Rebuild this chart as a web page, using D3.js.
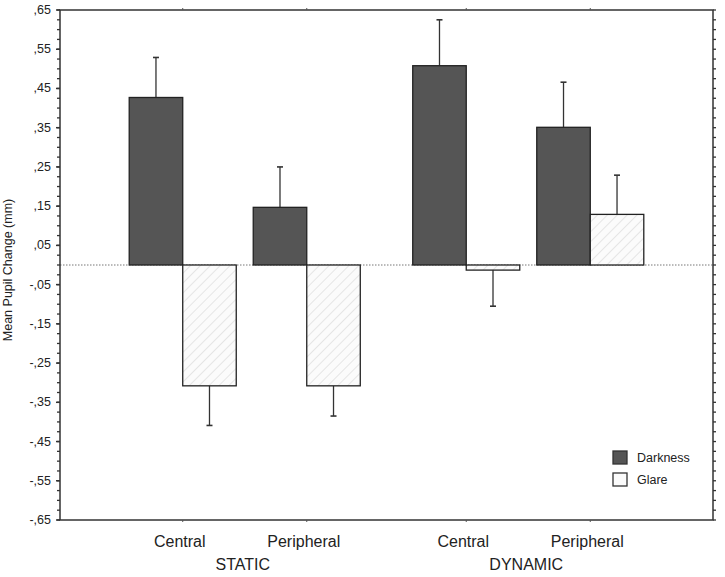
<!DOCTYPE html>
<html><head><meta charset="utf-8">
<script src="https://cdn.jsdelivr.net/npm/d3@7"></script>
<style>body{margin:0;background:#fff}svg{display:block}text{font-family:"Liberation Sans",Arial,sans-serif;fill:#222}</style>
</head><body>
<script>
const groups = ["STATIC", "DYNAMIC"];
const categories = ["Central", "Peripheral"];
const seriesNames = ["Darkness", "Glare"];
// values [group][category]
const darknessMean = [[0.427, 0.147], [0.508, 0.351]];
const darknessErr  = [[0.529, 0.250], [0.625, 0.466]];
const glareMean    = [[-0.308, -0.308], [-0.013, 0.129]];
const glareErr     = [[-0.409, -0.385], [-0.105, 0.229]];
const yTickLabels = [",65", ",55", ",45", ",35", ",25", ",15", ",05", "-,05", "-,15", "-,25", "-,35", "-,45", "-,55", "-,65"];
const yTickValues = [0.65, 0.55, 0.45, 0.35, 0.25, 0.15, 0.05, -0.05, -0.15, -0.25, -0.35, -0.45, -0.55, -0.65];

const W = 725, H = 577;
const m = {l: 60, r: 12, t: 10, b: 57};
const svg = d3.select("body").append("svg").attr("width", W).attr("height", H);

const defs = svg.append("defs");
const pat = defs.append("pattern").attr("id", "hatch").attr("patternUnits", "userSpaceOnUse")
  .attr("width", 7).attr("height", 7).attr("patternTransform", "rotate(45)");
pat.append("rect").attr("width", 7).attr("height", 7).attr("fill", "#fbfbfb");
pat.append("line").attr("x1", 0).attr("y1", 0).attr("x2", 0).attr("y2", 7).attr("stroke", "#d6d6d6").attr("stroke-width", 1.2);

const y = d3.scaleLinear().domain([-0.65, 0.65]).range([H - m.b, m.t]);
const xG = d3.scaleBand().domain(groups).range([m.l, W - m.r]).paddingInner(0).paddingOuter(0.1516);
const xC = d3.scaleBand().domain(categories).range([0, xG.bandwidth()]).paddingInner(0.137).paddingOuter(0.2115);
const xS = d3.scaleBand().domain(seriesNames).range([0, xC.bandwidth()]);

const colors = {Darkness: "#555555", Glare: "url(#hatch)"};

// zero dotted line
svg.append("line").attr("x1", m.l).attr("x2", W - m.r).attr("y1", y(0)).attr("y2", y(0))
  .attr("stroke", "#777").attr("stroke-width", 1).attr("stroke-dasharray", "1.5,1.5");

const data = [];
groups.forEach((g, gi) => categories.forEach((c, ci) => {
  data.push({g, c, s: "Darkness", v: darknessMean[gi][ci], e: darknessErr[gi][ci]});
  data.push({g, c, s: "Glare", v: glareMean[gi][ci], e: glareErr[gi][ci]});
}));

const barX = d => xG(d.g) + xC(d.c) + xS(d.s);
// error bars
data.forEach(d => {
  const cx = barX(d) + xS.bandwidth() / 2;
  svg.append("line").attr("x1", cx).attr("x2", cx).attr("y1", y(d.v)).attr("y2", y(d.e))
    .attr("stroke", "#333").attr("stroke-width", 1.3);
  svg.append("line").attr("x1", cx - 3).attr("x2", cx + 3).attr("y1", y(d.e)).attr("y2", y(d.e))
    .attr("stroke", "#333").attr("stroke-width", 1.6);
});
svg.selectAll("rect.bar").data(data).join("rect").attr("class", "bar")
  .attr("x", barX).attr("width", xS.bandwidth())
  .attr("y", d => y(Math.max(0, d.v))).attr("height", d => Math.abs(y(d.v) - y(0)))
  .attr("fill", d => colors[d.s]).attr("stroke", "#222").attr("stroke-width", 1.3);

// frame
svg.append("rect").attr("x", m.l).attr("y", m.t).attr("width", W - m.r - m.l).attr("height", H - m.b - m.t)
  .attr("fill", "none").attr("stroke", "#333").attr("stroke-width", 1.5);

// y axis ticks
const minor = d3.range(-0.65, 0.6501, 0.025);
const yAxis = svg.append("g");
minor.forEach(v => {
  yAxis.append("line").attr("x1", m.l - 3).attr("x2", m.l).attr("y1", y(v)).attr("y2", y(v)).attr("stroke", "#333").attr("stroke-width", 1.3);
  yAxis.append("line").attr("x1", W - m.r).attr("x2", W - m.r + 3).attr("y1", y(v)).attr("y2", y(v)).attr("stroke", "#333").attr("stroke-width", 1.3);
});
yTickValues.forEach((v, i) => {
  yAxis.append("line").attr("x1", m.l - 4).attr("x2", m.l).attr("y1", y(v)).attr("y2", y(v)).attr("stroke", "#333").attr("stroke-width", 1.5);
  yAxis.append("text").attr("x", m.l - 9).attr("y", y(v) + 4).attr("text-anchor", "end")
    .attr("font-size", 12.5).text(yTickLabels[i]);
});

// x category ticks and labels
groups.forEach(g => {
  categories.forEach(c => {
    const cx = xG(g) + xC(c) + xC.bandwidth() / 2;
    svg.append("line").attr("x1", cx).attr("x2", cx).attr("y1", H - m.b).attr("y2", H - m.b + 2).attr("stroke", "#555");
    svg.append("line").attr("x1", cx).attr("x2", cx).attr("y1", m.t).attr("y2", m.t - 2).attr("stroke", "#555");
    svg.append("text").attr("x", cx - 3).attr("y", H - m.b + 27).attr("text-anchor", "middle")
      .attr("font-size", 16).text(c);
  });
  svg.append("text").attr("x", xG(g) + xG.bandwidth() / 2 - 2).attr("y", H - m.b + 50).attr("text-anchor", "middle")
    .attr("font-size", 16).text(g);
});

// y label
svg.append("text").attr("transform", `translate(12,${y(0) + 5}) rotate(-90)`).attr("text-anchor", "middle")
  .attr("font-size", 12.5).text("Mean Pupil Change (mm)");

// legend
const lg = svg.append("g").attr("transform", "translate(613,451)");
seriesNames.forEach((s, i) => {
  lg.append("rect").attr("x", 0).attr("y", i * 22).attr("width", 14).attr("height", 13)
    .attr("fill", s === "Darkness" ? "#555" : "#fbfbfb").attr("stroke", "#333").attr("stroke-width", 1.3);
  lg.append("text").attr("x", 24).attr("y", i * 22 + 11).attr("font-size", 12.5).text(s);
});
</script>
</body></html>
